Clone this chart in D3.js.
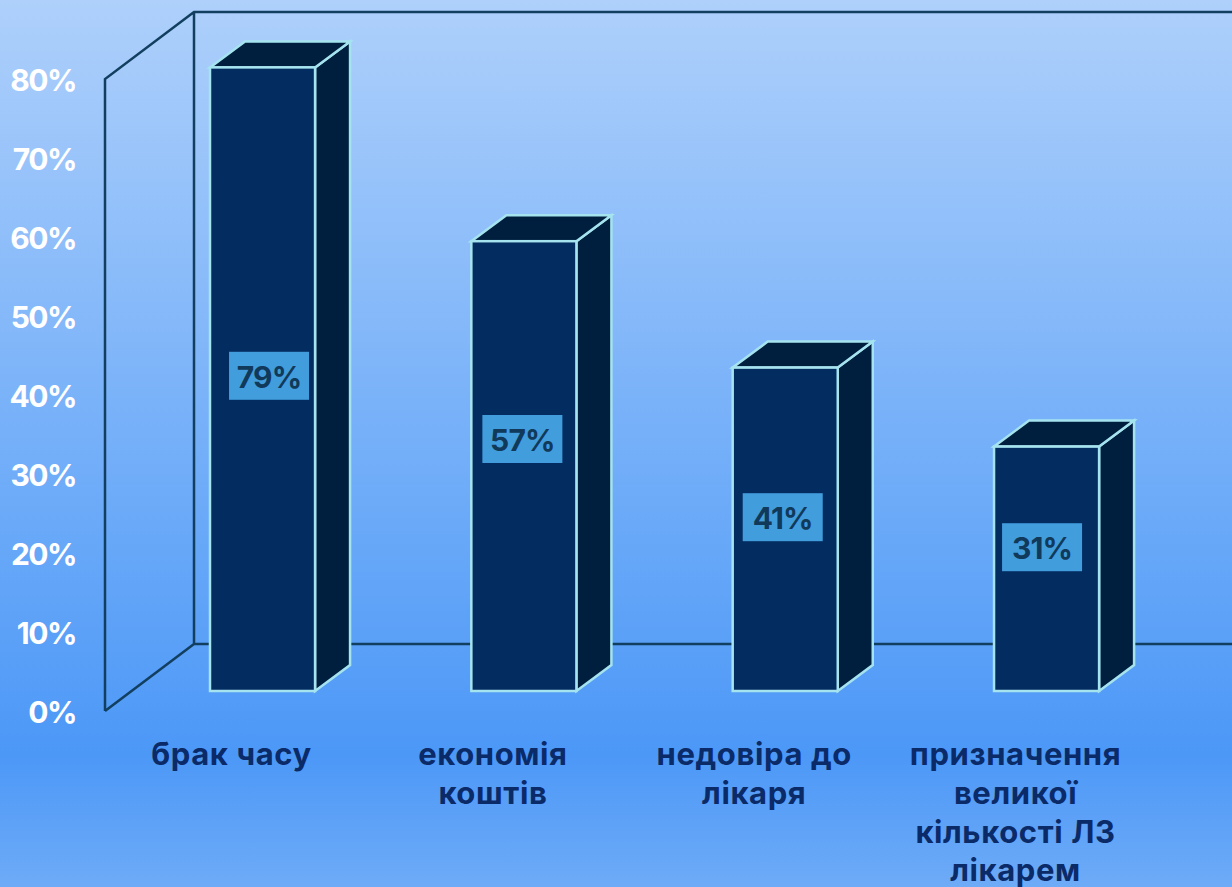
<!DOCTYPE html>
<html>
<head>
<meta charset="utf-8">
<script src="https://cdn.jsdelivr.net/npm/d3@7/dist/d3.min.js"></script>
<style>
  html, body { margin: 0; padding: 0; }
  text { font-family: "Inter", "Lato", sans-serif; font-weight: 700; }
</style>
</head>
<body>
<script>
const categories = [
  ['брак часу'],
  ['економія', 'коштів'],
  ['недовіра до', 'лікаря'],
  ['призначення', 'великої', 'кількості ЛЗ', 'лікарем']
];
const values = [79, 57, 41, 31];
const ticks = [0, 10, 20, 30, 40, 50, 60, 70, 80];
// where the value boxes sit on the axis, they are not centred on the bars
const labelLevels = [39.9, 31.9, 22, 18.2];

const width = 1232, height = 887;
const svg = d3.select('body').append('svg')
  .attr('width', width).attr('height', height)
  .style('display', 'block');

const grad = svg.append('defs').append('linearGradient')
  .attr('id', 'bg').attr('x1', 0).attr('x2', 0).attr('y1', 0).attr('y2', 1);
grad.append('stop').attr('offset', '0%').attr('stop-color', '#aed0fb');
grad.append('stop').attr('offset', '85%').attr('stop-color', '#4c98f7');
grad.append('stop').attr('offset', '100%').attr('stop-color', '#6eabf7');
svg.append('rect').attr('width', width).attr('height', height).attr('fill', 'url(#bg)');

const y = d3.scaleLinear().domain([0, 80]).range([711, 79]);
const x = d3.scaleBand().domain(d3.range(categories.length))
  .range([131.6, 1177.5]).paddingInner(0.598).paddingOuter(0.3);
const depth = { x: 89, y: -67 };
const barDepth = { x: 35, y: -26 };
const lift = 20;
const base = y(0) - lift;
const barTop = d => y(d) - lift + 0.5;
const cx = i => x(i) + x.bandwidth() / 2;

// walls
const wall = '#123f5f';
svg.append('path')
  .attr('d', `M105,${y(0)} L${105 + depth.x},${y(0) + depth.y} L${width},${y(0) + depth.y}
    M105,${y(0)} L105,${y(80)} L${105 + depth.x},${y(80) + depth.y} L${width},${y(80) + depth.y}
    M${105 + depth.x},${y(80) + depth.y} L${105 + depth.x},${y(0) + depth.y}`)
  .attr('fill', 'none').attr('stroke', wall).attr('stroke-width', 2.5);

// tick labels
svg.selectAll('.tick-label').data(ticks).enter().append('text')
  .attr('class', 'tick-label')
  .attr('x', 76).attr('y', d => y(d) + 12)
  .attr('text-anchor', 'end')
  .attr('letter-spacing', -1.5)
  .attr('fill', '#fff').attr('font-size', 30)
  .text(d => d + '%');

// bars
const stroke = '#a5e3ef';
const bars = svg.selectAll('.bar').data(values).enter().append('g').attr('class', 'bar');
bars.append('path')
  .attr('d', (d, i) => {
    const r = x(i) + x.bandwidth();
    return `M${r},${base} L${r + barDepth.x},${base + barDepth.y} L${r + barDepth.x},${barTop(d) + barDepth.y} L${r},${barTop(d)} Z`;
  })
  .attr('fill', '#001f3f').attr('stroke', stroke).attr('stroke-width', 2.5);
bars.append('path')
  .attr('d', (d, i) => {
    const l = x(i), r = l + x.bandwidth();
    return `M${l},${barTop(d)} L${l + barDepth.x},${barTop(d) + barDepth.y} L${r + barDepth.x},${barTop(d) + barDepth.y} L${r},${barTop(d)} Z`;
  })
  .attr('fill', '#001f3f').attr('stroke', stroke).attr('stroke-width', 2.5);
bars.append('rect')
  .attr('x', (d, i) => x(i)).attr('y', d => barTop(d))
  .attr('width', x.bandwidth()).attr('height', d => base - barTop(d))
  .attr('fill', '#032c60').attr('stroke', stroke).attr('stroke-width', 2.5);

// value labels
const labelDx = [6.5, -1.5, -2.5, -4.5];
const labelY = i => y(labelLevels[i]) - lift;
bars.append('rect')
  .attr('x', (d, i) => cx(i) + labelDx[i] - 40).attr('y', (d, i) => labelY(i) - 24)
  .attr('width', 80).attr('height', 48)
  .attr('fill', '#429ddd');
bars.append('text')
  .attr('x', (d, i) => cx(i) + labelDx[i]).attr('y', (d, i) => labelY(i) + 12)
  .attr('text-anchor', 'middle')
  .attr('letter-spacing', -0.8)
  .attr('fill', '#10395a').attr('font-size', 30)
  .text(d => d + '%');

// category labels
svg.selectAll('.cat').data(categories).enter().append('text')
  .attr('class', 'cat')
  .attr('fill', '#0b2a68').attr('font-size', 31)
  .attr('letter-spacing', 0.6)
  .attr('text-anchor', 'middle')
  .each(function (lines, i) {
    d3.select(this).selectAll('tspan').data(lines).enter().append('tspan')
      .attr('x', cx(i) - 31)
      .attr('y', (l, j) => 765 + j * 38.8)
      .text(l => l);
  });
</script>
</body>
</html>
